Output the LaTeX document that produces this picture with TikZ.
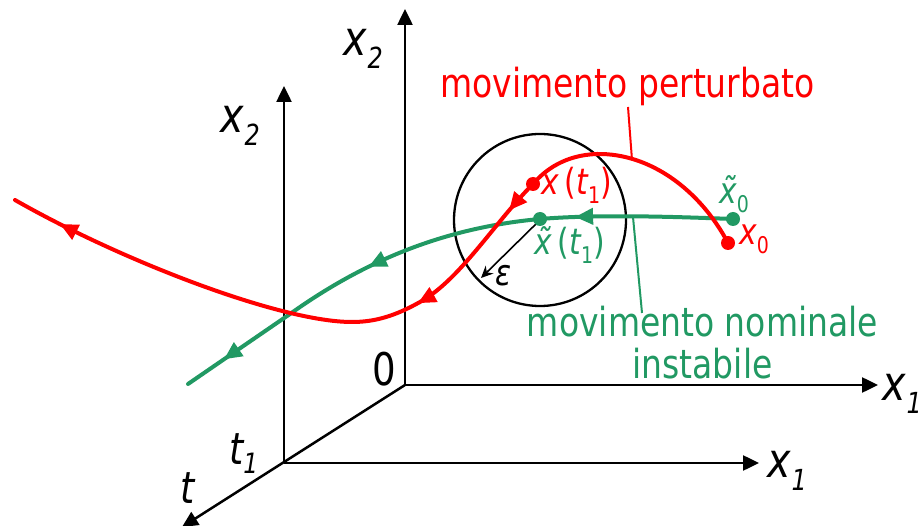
\documentclass[tikz,border=0pt]{standalone}
\usepackage{fontspec}
\setmainfont{DejaVu Sans}[FakeStretch=0.825]
\usetikzlibrary{arrows.meta,decorations.markings}
\definecolor{myred}{RGB}{255,0,0}
\definecolor{mygreen}{RGB}{33,153,99}
\newcommand\axlab[2]{{\fontsize{48}{48}\selectfont\itshape #1}\kern1pt\raisebox{-13pt}{\fontsize{29}{29}\selectfont\itshape #2}}
\newcommand\tlabsub[1]{\raisebox{-9pt}{\fontsize{28}{28}\selectfont #1}}
\newcommand\smsub[1]{\raisebox{-9pt}{\fontsize{23}{23}\selectfont #1}}
\newcommand\smfont{\fontsize{36}{36}\selectfont}
\tikzset{
  axisline/.style={line width=2.5pt, -{Triangle[length=16pt,width=15pt]}},
  trajline/.style={line width=4pt, line cap=round, postaction={decorate}},
  dotnode/.style={circle, inner sep=0pt, minimum size=14pt},
  lbl/.style={inner sep=0pt, anchor=base west},
  >={Triangle[length=18pt,width=16pt]}
}
\begin{document}
\begin{tikzpicture}[x=1pt,y=-1pt]
\useasboundingbox (0,0) rectangle (918,526);
% coordinates
\coordinate (O) at (405,385);
\coordinate (F) at (284,463);
\coordinate (x2top) at (405,9);
\coordinate (x1back) at (878,385);
\coordinate (x2front) at (284,86);
\coordinate (x1front) at (759,463);
\coordinate (ttip) at (182,527);
% axes
\draw[axisline] (O) -- (x2top);
\draw[axisline] (O) -- (x1back);
\draw[axisline] (F) -- (x2front);
\draw[axisline] (F) -- (x1front);
\draw[axisline] (O) -- (ttip);
% axis labels
\node[lbl] (lx2b) at (343,56) {\axlab{x}{2}};
\node[lbl] (lx1b) at (882,400) {\axlab{x}{1}};
\node[lbl] (lx2f) at (220,133) {\axlab{x}{2}};
\node[lbl] (lx1f) at (767,477) {\axlab{x}{1}};
\node[lbl] (lzero) at (372,385) {\fontsize{45}{45}\selectfont 0};
\node[lbl] (lt1) at (229,464) {\fontsize{44}{44}\selectfont\itshape t\tlabsub{1}};
\node[lbl] (lt) at (180,503) {\fontsize{44}{44}\selectfont\itshape t};
% circle
\coordinate (C) at (540,220);
\draw[line width=2.3pt] (C) circle (86pt);
% epsilon
\coordinate (etip) at (481,278);
\draw[line width=1.6pt, -{Stealth[length=12pt,width=11pt]}] (C) -- (etip);
\node[lbl] (leps) at (495,286) {\smfont\itshape ε};
% points
\coordinate (gx0) at (733,219);
\coordinate (rx0) at (728,243);
\coordinate (gxt) at (540,219);
\coordinate (rxt) at (533,184);
% green curve
\draw[trajline, mygreen, decoration={markings,
   mark=at position 158pt with {\arrow{>}},
   mark=at position 372pt with {\arrow{>}},
   mark=at position 544pt with {\arrow{>}}}]
  (gx0) .. controls (680,217) and (600,214) .. (gxt)
        .. controls (440,228) and (360,264) .. (290,314)
        .. controls (255,338) and (220,362) .. (188,384);
% red curve
\draw[trajline, myred, decoration={markings,
   mark=at position 275pt with {\arrow{>}},
   mark=at position 406pt with {\arrow{>}},
   mark=at position 785pt with {\arrow{>}}}]
  (rx0) .. controls (700,190) and (650,153) .. (597,154)
        .. controls (565,155) and (545,170) .. (rxt)
        .. controls (495,222) and (460,280) .. (420,302)
        .. controls (395,316) and (375,322) .. (352,322)
        .. controls (280,322) and (120,260) .. (15,200);
% dots
\node[dotnode, fill=mygreen] (dgx0) at (gx0) {};
\node[dotnode, fill=myred] (drx0) at (rx0) {};
\node[dotnode, fill=mygreen] (dgxt) at (gxt) {};
\node[dotnode, fill=myred] (drxt) at (rxt) {};
% point labels
\node[lbl, text=myred] (lrxt) at (541,195) {\smfont\itshape x\,\upshape(\itshape t\smsub{\upshape 1}\upshape)};
\node[lbl, text=mygreen] (lgxt) at (534,255) {\smfont\itshape \~{x}\,\upshape(\itshape t\smsub{\upshape 1}\upshape)};
\node[lbl, text=mygreen] (lgx0) at (719,204) {\smfont\itshape \~{x}\smsub{\upshape 0}};
\node[lbl, text=myred] (lrx0) at (739,245) {\smfont\itshape x\smsub{\upshape 0}};
% labels
\node[inner sep=0pt, anchor=base, text=myred] (lpert) at (627.5,98) {\fontsize{40}{41}\selectfont movimento perturbato};
\node[inner sep=0pt, anchor=base, text=mygreen] (lnom1) at (702.5,337) {\fontsize{40}{41}\selectfont movimento nominale};
\node[inner sep=0pt, anchor=base, text=mygreen] (lnom2) at (702.5,378) {\fontsize{40}{41}\selectfont instabile};
% leaders
\coordinate (rlead) at (632,160);
\coordinate (glead) at (633,217);
\draw[myred, line width=2pt] (628,107) -- (rlead);
\draw[mygreen, line width=2pt] (642,313) -- (glead);
\end{tikzpicture}
\end{document}
